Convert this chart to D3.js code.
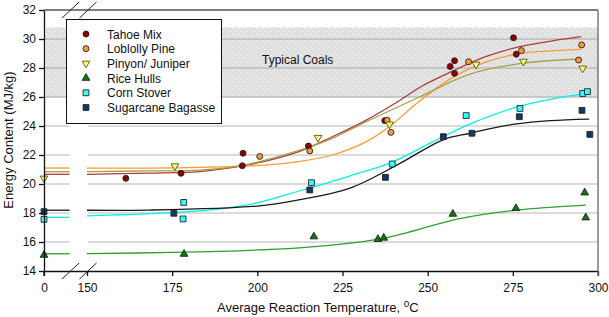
<!DOCTYPE html>
<html>
<head>
<meta charset="utf-8">
<script src="https://cdn.jsdelivr.net/npm/d3@7"></script>
<style>
body { margin: 0; background: #fff; }
text { font-family: "Liberation Sans", Arial, sans-serif; fill: #111; }
</style>
</head>
<body>
<div id="chart-area"></div>
<script>
/*
*    energy content vs reaction temperature
*/

const width = 609;
const height = 317;

// Series names (legend order)
const seriesNames = ["Tahoe Mix", "Loblolly Pine", "Pinyon/ Juniper", "Rice Hulls", "Corn Stover", "Sugarcane Bagasse"];

// Measured points [temperature C, energy MJ/kg]
const tahoePts = [[161.4, 20.39], [177.6, 20.74], [195.6, 21.26], [195.8, 22.12], [215, 22.62], [237.4, 24.37],
    [256.6, 28.1], [257.9, 28.5], [257.9, 27.63], [275.2, 30.08], [276, 28.95]];
const loblollyPts = [[200.7, 21.9], [215.4, 22.28], [238.1, 24.4], [239.2, 23.56], [262, 28.43],
    [277.5, 29.2], [295.2, 29.59], [294.3, 28.55]];
const pinyonPts = [[0, 20.39], [175.8, 21.24], [217.8, 23.2], [238.8, 24.12], [264.2, 28.25],
    [278.1, 28.45], [295.5, 27.98]];
const ricePts = [[0, 15.1], [178.5, 15.17], [216.6, 16.37], [235.4, 16.19], [237.1, 16.28],
    [257.4, 17.93], [275.9, 18.32], [296.1, 19.4], [296.4, 17.68]];
const cornPts = [[0, 17.56], [178.4, 18.73], [178.2, 17.59], [215.9, 20.09], [239.6, 21.38],
    [261.3, 24.72], [277.1, 25.21], [295.5, 26.24], [296.9, 26.37]];
const sugarPts = [[0, 18.09], [175.5, 17.98], [215.4, 19.59], [237.6, 20.46], [254.6, 23.26],
    [263, 23.5], [276.9, 24.64], [295.3, 25.08], [297.6, 23.42]];

// Fitted curves
const tahoeFit = [[0, 20.67], [150, 20.67], [168, 20.75], [183, 20.86], [196, 21.26], [212, 22.22], [222, 23.26],
    [232, 24.41], [242, 25.79], [248, 26.71], [257, 27.75], [267, 28.78], [277, 29.47], [287, 29.89], [295, 30.16]];
const loblollyFit = [[0, 21.1], [150, 21.1], [168, 21.1], [183, 21.15], [202, 21.3], [212, 21.54], [222, 22.0],
    [232, 22.92], [239, 24.0], [247, 25.6], [257, 27.3], [267, 28.4], [277, 29.0], [287, 29.2], [295, 29.29]];
const pinyonFit = [[0, 20.85], [150, 20.85], [168, 20.9], [183, 20.95], [196, 21.3], [212, 22.3], [222, 23.15],
    [232, 24.3], [247.6, 26.0], [262, 27.55], [277, 28.3], [294.5, 28.62]];
const riceFit = [[0, 15.19], [150, 15.2], [175, 15.28], [200, 15.45], [215, 15.65], [237, 16.25], [259, 17.6],
    [276, 18.2], [296.4, 18.55]];
const cornFit = [[0, 17.7], [150, 17.8], [160, 17.88], [175, 18.02], [188, 18.25], [200, 18.7], [212, 19.5],
    [227, 20.55], [240, 21.55], [251, 22.85], [262, 24.1], [276, 25.3], [286, 25.84], [297.4, 26.26]];
const sugarFit = [[0, 18.19], [150, 18.19], [168, 18.2], [200, 18.48], [212, 18.9], [227, 19.7], [241.7, 21.4],
    [254.5, 23.05], [262, 23.48], [266, 23.7], [276, 24.14], [286, 24.37], [297.4, 24.48]];

// Axis ticks
const xTicks = [0, 150, 175, 200, 225, 250, 275, 300];
const yTicks = [14, 16, 18, 20, 22, 24, 26, 28, 30, 32];

// Typical coals range (MJ/kg)
const coalBand = [26, 30.8];

const seriesPts = [tahoePts, loblollyPts, pinyonPts, ricePts, cornPts, sugarPts];
const seriesFit = [tahoeFit, loblollyFit, pinyonFit, riceFit, cornFit, sugarFit];

const lineColors = ["#b33a3a", "#ff9933", "#a3a34a", "#2ea02e", "#00f0f0", "#1a1a1a"];
const fillColors = ["#8b0000", "#ff9933", "#ffff66", "#0a7a0a", "#33ffff", "#0d3b66"];
const shapes = ["circle", "circle", "tridown", "triup", "square", "square"];

// axis break: left piece 0..breakLo, right piece 150..300
const breakLo = 7.5;

const svg = d3.select("#chart-area")
    .append("svg")
    .attr("width", width)
    .attr("height", height);

svg.append("rect")
    .attr("width", "100%")
    .attr("height", "100%")
    .attr("fill", "white");

// dotted gray fill for the coal band
const pat = svg.append("defs").append("pattern")
    .attr("id", "dots")
    .attr("width", 6)
    .attr("height", 6)
    .attr("patternUnits", "userSpaceOnUse");
pat.append("rect").attr("width", 6).attr("height", 6).attr("fill", "#e0e0e0");
pat.append("rect").attr("x", 1).attr("y", 1).attr("width", 1).attr("height", 1).attr("fill", "#fafafa");
pat.append("rect").attr("x", 4).attr("y", 4).attr("width", 1).attr("height", 1).attr("fill", "#fafafa");

// Scales
const x = d3.scaleLinear()
    .domain([0, breakLo, 150, 300])
    .range([44, 69.6, 87, 598]);

const y = d3.scaleLinear()
    .domain([14, 32])
    .range([271, 10]);

// Coal band
svg.append("rect")
    .attr("x", x(0) + 2)
    .attr("y", y(coalBand[1]))
    .attr("width", x(300) - x(0) - 2)
    .attr("height", y(coalBand[0]) - y(coalBand[1]))
    .attr("fill", "url(#dots)");

svg.append("text")
    .attr("x", 262)
    .attr("y", 64)
    .attr("font-size", "12px")
    .text("Typical Coals");

// Gridlines, split at the break
const gridVals = yTicks.filter(d => d > 14 && d < 32);
[[0, breakLo], [150, 300]].forEach(seg => {
    svg.selectAll(null)
        .data(gridVals)
        .enter().append("line")
        .attr("x1", x(seg[0]) + 1)
        .attr("x2", x(seg[1]))
        .attr("y1", d => y(d))
        .attr("y2", d => y(d))
        .attr("stroke", d => (d >= coalBand[0] && d <= coalBand[1]) ? "#bdbdbd" : "#cfcfcf")
        .attr("stroke-width", 1.5);
});

// Fitted lines
const line = d3.line()
    .x(d => x(d[0]))
    .y(d => y(d[1]))
    .curve(d3.curveCatmullRom.alpha(0.5));

seriesFit.forEach((fit, i) => {
    const left = [[0, fit[0][1]], [breakLo, fit[0][1]]];
    const right = fit.filter(d => d[0] >= 150);
    [left, right].forEach(part => {
        svg.append("path")
            .attr("d", line(part))
            .attr("fill", "none")
            .attr("stroke", lineColors[i])
            .attr("stroke-width", 1.3);
    });
});

// Marker drawing
function drawMarker(sel, shape, fill) {
    if (shape === "circle") {
        sel.append("path").attr("d", d3.symbol(d3.symbolCircle, 28)());
    } else if (shape === "square") {
        sel.append("path").attr("d", d3.symbol(d3.symbolSquare, 34)());
    } else if (shape === "triup") {
        sel.append("path").attr("d", d3.symbol(d3.symbolTriangle, 26)());
    } else {
        sel.append("path").attr("d", d3.symbol(d3.symbolTriangle, 26)())
            .attr("transform", "rotate(180)");
    }
    sel.select("path")
        .attr("fill", fill)
        .attr("stroke", shape === "tridown" ? "#555522" : "#222")
        .attr("stroke-width", 0.9);
}

seriesPts.forEach((pts, i) => {
    svg.selectAll(null)
        .data(pts)
        .enter().append("g")
        .attr("transform", d => "translate(" + x(d[0]) + "," + y(d[1]) + ")")
        .each(function() { drawMarker(d3.select(this), shapes[i], fillColors[i]); });
});

// Axes
const bottomAxis = d3.axisBottom(x)
    .tickValues(xTicks)
    .tickSize(5)
    .tickSizeOuter(0)
    .tickFormat(d3.format("d"));

const xAxisGroup = svg.append("g")
    .attr("transform", "translate(0," + y(14) + ")")
    .call(bottomAxis);

const leftAxis = d3.axisLeft(y)
    .tickValues(yTicks)
    .tickSize(5)
    .tickSizeOuter(0);

const yAxisGroup = svg.append("g")
    .attr("transform", "translate(" + x(0) + ",0)")
    .call(leftAxis);

svg.selectAll(".domain, .tick line")
    .attr("stroke", "#111")
    .attr("stroke-width", 1.3);

svg.selectAll(".tick text")
    .attr("font-family", "Liberation Sans, Arial, sans-serif")
    .attr("font-size", "12px")
    .attr("fill", "#111");

xAxisGroup.selectAll(".tick text").attr("dy", "1.05em");

// y axis runs a bit below the x axis
svg.append("line")
    .attr("x1", x(0)).attr("x2", x(0))
    .attr("y1", y(14)).attr("y2", y(14) + 5)
    .attr("stroke", "#111").attr("stroke-width", 1.3);

// Top and right frame
svg.append("line")
    .attr("x1", x(0)).attr("x2", x(300))
    .attr("y1", y(32)).attr("y2", y(32))
    .attr("stroke", "#555").attr("stroke-width", 1.5);

svg.append("line")
    .attr("x1", x(300)).attr("x2", x(300))
    .attr("y1", y(32)).attr("y2", y(14) + 5)
    .attr("stroke", "#666").attr("stroke-width", 1.3);

// Break marks on top and bottom
[y(32), y(14)].forEach(yy => {
    [x(breakLo) + 1, x(150) + 1].forEach(xx => {
        svg.append("line")
            .attr("x1", xx - 8.5).attr("y1", yy + 8)
            .attr("x2", xx + 8.5).attr("y2", yy - 8)
            .attr("stroke", "#222").attr("stroke-width", 1);
    });
});

// Axis labels
const xLabel = svg.append("text")
    .attr("x", 217)
    .attr("y", 312)
    .attr("font-size", "13px");
xLabel.append("tspan").text("Average Reaction Temperature, ");
xLabel.append("tspan").attr("dy", -5).attr("font-size", "10px").text("o");
xLabel.append("tspan").attr("dy", 5).text("C");

svg.append("text")
    .attr("x", -140)
    .attr("y", 13)
    .attr("font-size", "13px")
    .attr("text-anchor", "middle")
    .attr("transform", "rotate(-90)")
    .text("Energy Content (MJ/kg)");

// Legend
const legend = svg.append("g");

legend.append("rect")
    .attr("x", 66.5)
    .attr("y", 19.5)
    .attr("width", 155)
    .attr("height", 104)
    .attr("fill", "white")
    .attr("stroke", "#111")
    .attr("stroke-width", 1);

seriesNames.forEach((name, i) => {
    const row = legend.append("g")
        .attr("transform", "translate(86," + (34 + i * 14.7) + ")");
    drawMarker(row, shapes[i], fillColors[i]);
    row.append("text")
        .attr("x", 21)
        .attr("y", 4.5)
        .attr("font-size", "12px")
        .text(name);
});
</script>
</body>
</html>
